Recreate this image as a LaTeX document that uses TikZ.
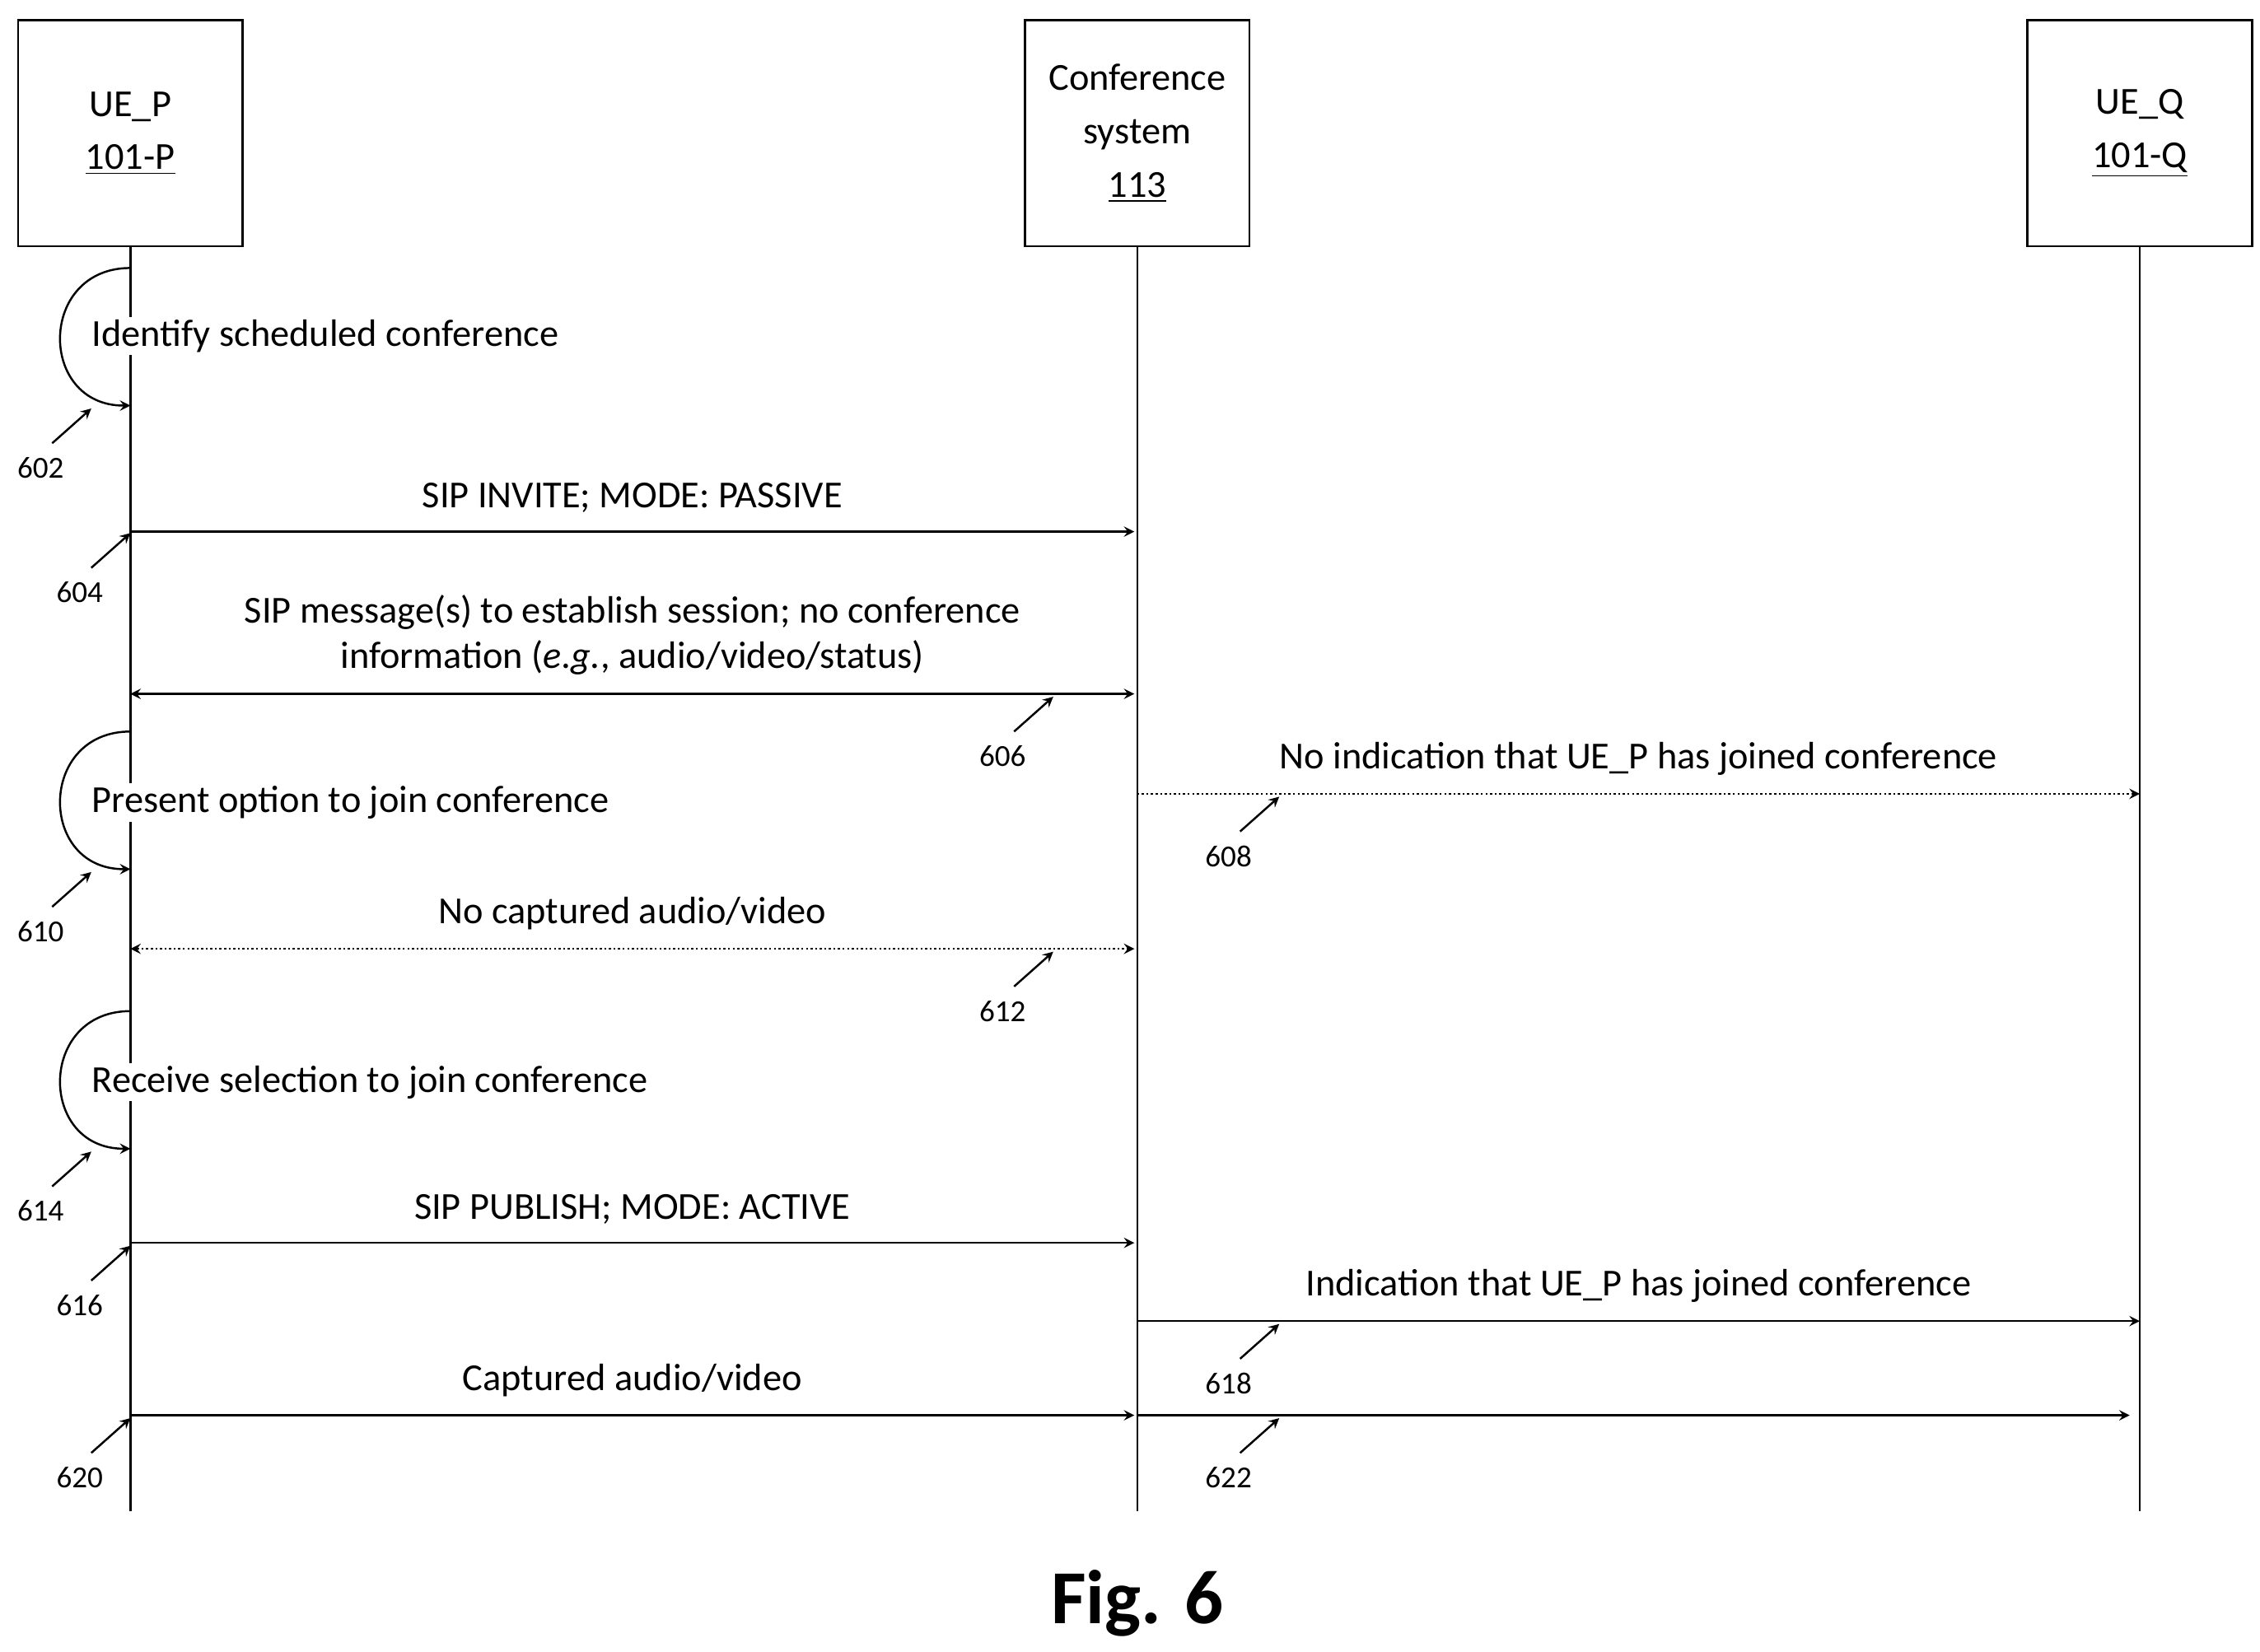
\documentclass[tikz,border=0pt]{standalone}
\usepackage{fontspec}
\setmainfont{Carlito}
\usetikzlibrary{positioning, calc}

\begin{document}
\begin{tikzpicture}[x=0.02cm, y=-0.02cm, >=stealth, thick,
	entity/.style={draw, minimum width=3.1cm, minimum height=3.12cm, align=center, font=\fontsize{15}{21}\selectfont},
	msg/.style={font=\fontsize{15}{18}\selectfont, inner sep=1pt},
	localstep/.style={font=\fontsize{15}{18}\selectfont, fill=white, inner sep=1pt, anchor=west},
	tag/.style={font=\fontsize{12}{14}\selectfont},
	dots/.style={densely dotted}]
	\useasboundingbox (0,0) rectangle (1560,1140);

	%Entidades:
	\node[entity] (P) at (90,92)    {UE\_P\\\underline{101-P}};
	\node[entity] (C) at (785,92)   {Conference\\system\\\underline{113}};
	\node[entity] (Q) at (1477,92)  {UE\_Q\\\underline{101-Q}};
	\coordinate (Pe) at (90,1043);
	\coordinate (Ce) at (785,1043);
	\coordinate (Qe) at (1477,1043);
	\draw (P) -- (Pe);
	\draw (C) -- (Ce);
	\draw (Q) -- (Qe);

	%Passos locais em UE_P:
	\foreach \a/\b/\t/\txt in {185/280/232/Identify scheduled conference,
		505/600/554/Present option to join conference,
		698/793/747/Receive selection to join conference} {
		\coordinate (s\a) at (90,\a);
		\coordinate (e\a) at (90,\b);
		\draw[->] (s\a) .. controls (26,\a) and (26,\b) .. (e\a);
		\node[localstep] at (61,\t) {\txt};
	}

	%Mensagens:
	\coordinate (p604) at (90,367);  \coordinate (c604) at (783,367);
	\coordinate (p606) at (90,479);  \coordinate (c606) at (783,479);
	\coordinate (c608) at (785,548); \coordinate (q608) at (1477,548);
	\coordinate (p612) at (90,655);  \coordinate (c612) at (783,655);
	\coordinate (p616) at (90,858);  \coordinate (c616) at (783,858);
	\coordinate (c618) at (785,912); \coordinate (q618) at (1477,912);
	\coordinate (p620) at (90,977);  \coordinate (c620) at (783,977);
	\coordinate (c622) at (785,977); \coordinate (q622) at (1470,977);

	\draw[->] (p604) -- node[msg, above=6pt] {SIP INVITE; MODE: PASSIVE} (c604);
	\draw[<->] (p606) -- node[msg, above=6pt, align=center] {SIP message(s) to establish session; no conference\\information (\emph{e.g.}, audio/video/status)} (c606);
	\draw[->, dots] (c608) -- node[msg, above=6pt] {No indication that UE\_P has joined conference} (q608);
	\draw[<->, dots] (p612) -- node[msg, above=6pt] {No captured audio/video} (c612);
	\draw[->] (p616) -- node[msg, above=6pt] {SIP PUBLISH; MODE: ACTIVE} (c616);
	\draw[->] (c618) -- node[msg, above=6pt] {Indication that UE\_P has joined conference} (q618);
	\draw[->] (p620) -- node[msg, above=6pt] {Captured audio/video} (c620);
	\draw[->] (c622) -- (q622);

	%Referencias:
	\foreach \n/\x/\y in {602/63/282, 604/90/368, 606/727/481, 608/883/550,
		610/63/602, 612/727/657, 614/63/795, 616/90/860, 618/883/914,
		620/90/979, 622/883/979} {
		\node[tag] (t\n) at (\x-35,\y+41) {\n};
		\draw[->] (\x-27,\y+24) -- (\x,\y);
	}

	\node[font=\bfseries\fontsize{30}{34}\selectfont] (fig) at (785,1107) {Fig. 6};
\end{tikzpicture}
\end{document}
